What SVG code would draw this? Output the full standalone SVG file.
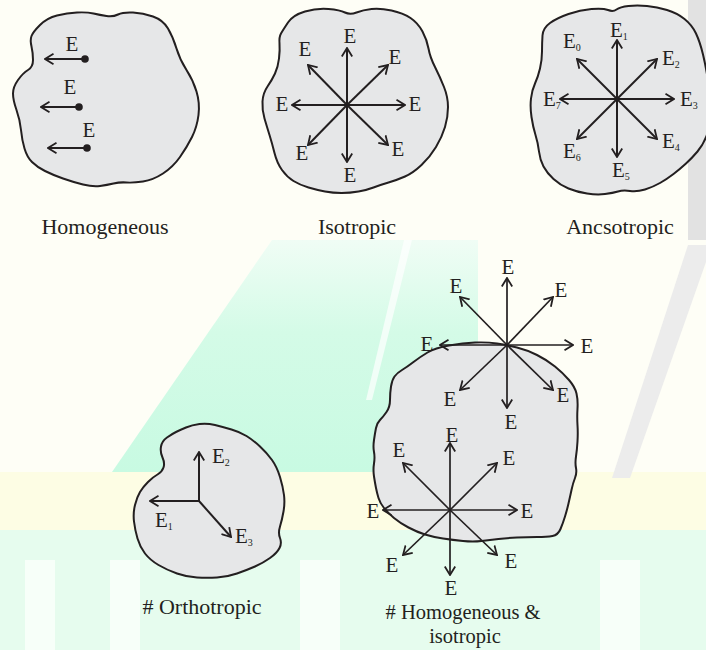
<svg xmlns="http://www.w3.org/2000/svg" width="706" height="650" viewBox="0 0 706 650">
<style>
.blob{fill:#e6e7e8;stroke:#231f20;stroke-width:2;stroke-linejoin:round}
.ar{fill:none;stroke:#231f20;stroke-width:2;marker-end:url(#ah)}
.ar2{fill:none;stroke:#231f20;stroke-width:1.7;marker-end:url(#ah)}
text{font-family:"Liberation Serif","DejaVu Serif",serif;fill:#231f20}
.e{font-size:21px;text-anchor:middle}
.es{font-size:21px}
.sub{font-size:10px}
.cap{font-size:22px;text-anchor:middle}
.cap2{font-size:20.5px;text-anchor:middle}
</style>
<defs>
<marker id="ah" viewBox="0 0 10 12" refX="9" refY="6" markerWidth="10" markerHeight="12" markerUnits="userSpaceOnUse" orient="auto">
<path d="M0.5,0.8 L9,6 L0.5,11.2" fill="none" stroke="#231f20" stroke-width="1.8"/>
</marker>
<linearGradient id="mint" x1="0" y1="0" x2="0" y2="1">
<stop offset="0" stop-color="#f0fdf5"/>
<stop offset="0.4" stop-color="#d4fbe7"/>
<stop offset="1" stop-color="#c8fae2"/>
</linearGradient>
</defs>
<g id="background">
<rect width="706" height="650" fill="#fefef6"/>
<polygon points="272,240 478,240 478,472 112,472" fill="url(#mint)"/>
<polygon points="404,240 412,240 372,400 366,400" fill="#ffffff" opacity="0.7"/>
<rect x="0" y="472" width="706" height="58" fill="#fdfde4"/>
<rect x="0" y="530" width="706" height="120" fill="#e6fcee"/>
<rect x="25" y="560" width="30" height="90" fill="#f7fff9"/>
<rect x="110" y="560" width="30" height="90" fill="#f7fff9"/>
<rect x="300" y="560" width="40" height="90" fill="#f7fff9"/>
<rect x="600" y="560" width="40" height="90" fill="#f7fff9"/>
<rect x="688" y="0" width="18" height="240" fill="#e2e2e2"/>
<polygon points="688,245 706,245 706,262 630,478 612,478" fill="#ececec"/>
</g>
<g id="homogeneous">
<path class="blob" d="M40,25 Q47,18 57,15.5 Q67,13 77,12.5 Q87,12 93.5,13.5 Q100,15 106.5,16 Q113,17 118,14.5 Q123,12 133,12.5 Q143,13 153,16.5 Q163,20 168,28.5 Q173,37 176.5,48.5 Q180,60 186.5,70 Q193,80 196.5,91.5 Q200,103 198.5,115 Q197,127 192,137 Q187,147 180,157 Q173,167 163,173.5 Q153,180 143,181.5 Q133,183 126.5,182.5 Q120,182 113.5,183.5 Q107,185 100,186 Q93,187 83,184.5 Q73,182 63,178.5 Q53,175 45,171 Q37,167 32,162 Q27,157 24.5,148.5 Q22,140 21,130 Q20,120 16.5,110 Q13,100 13,93.5 Q13,87 18,80 Q23,73 28,70 Q33,67 33,60 Q33,53 31.5,46.5 Q30,40 31.5,36 Q33,32 40,25 Z"/>
<line class="ar" x1="85" y1="59" x2="45" y2="59"/>
<line class="ar" x1="79" y1="107" x2="41" y2="107"/>
<line class="ar" x1="87" y1="148" x2="48" y2="148"/>
<circle cx="85" cy="59" r="3.8" fill="#231f20"/>
<circle cx="79" cy="107" r="3.8" fill="#231f20"/>
<circle cx="87" cy="148" r="3.8" fill="#231f20"/>
<g font-family="Liberation Serif, DejaVu Serif, serif">
<text class="e" x="72" y="51">E</text>
<text class="e" x="70" y="94">E</text>
<text class="e" x="89" y="137">E</text>
<text class="cap" x="105" y="234">Homogeneous</text>
</g>
</g>
<g id="isotropic">
<path class="blob" d="M288,22.5 Q293,15 305,11.5 Q317,8 328.5,9 Q340,10 345,12.5 Q350,15 356.5,12.5 Q363,10 371.5,9 Q380,8 391.5,10.5 Q403,13 410.5,18 Q418,23 422.5,31.5 Q427,40 428.5,48.5 Q430,57 435,67 Q440,77 444,87 Q448,97 448,107 Q448,117 445,127 Q442,137 436,147 Q430,157 421.5,165 Q413,173 405,176.5 Q397,180 388.5,182.5 Q380,185 373.5,187.5 Q367,190 358.5,191.5 Q350,193 341.5,193 Q333,193 325,191.5 Q317,190 308.5,187.5 Q300,185 293.5,181 Q287,177 282,170 Q277,163 274.5,153 Q272,143 269.5,135 Q267,127 264.5,118.5 Q262,110 262.5,101.5 Q263,93 267.5,86.5 Q272,80 275,73.5 Q278,67 279,58.5 Q280,50 279.5,43.5 Q279,37 281,33.5 Q283,30 288,22.5 Z"/>
<line class="ar" x1="347" y1="105" x2="347" y2="48"/>
<line class="ar" x1="347" y1="105" x2="347" y2="162"/>
<line class="ar" x1="347" y1="105" x2="292" y2="105"/>
<line class="ar" x1="347" y1="105" x2="405" y2="105"/>
<line class="ar" x1="347" y1="105" x2="308" y2="65"/>
<line class="ar" x1="347" y1="105" x2="388" y2="65"/>
<line class="ar" x1="347" y1="105" x2="388" y2="145"/>
<line class="ar" x1="347" y1="105" x2="308" y2="145"/>
<g font-family="Liberation Serif, DejaVu Serif, serif">
<text class="e" x="350" y="43">E</text>
<text class="e" x="305" y="56">E</text>
<text class="e" x="395" y="64">E</text>
<text class="e" x="282" y="111">E</text>
<text class="e" x="415" y="111">E</text>
<text class="e" x="302" y="160">E</text>
<text class="e" x="398" y="156">E</text>
<text class="e" x="350" y="182">E</text>
<text class="cap" x="357" y="234">Isotropic</text>
</g>
</g>
<g id="ancsotropic">
<path class="blob" d="M550,23 Q557,18 568.5,14 Q580,10 591.5,9 Q603,8 608,10 Q613,12 616.5,9.5 Q620,7 628.5,6 Q637,5 647,6 Q657,7 667,10 Q677,13 684.5,19 Q692,25 696,33.5 Q700,42 703,54.5 Q706,67 708.5,83.5 Q711,100 710.5,113.5 Q710,127 706.5,136 Q703,145 697.5,151.5 Q692,158 686,163.5 Q680,169 673.5,174 Q667,179 660,183 Q653,187 645,189.5 Q637,192 630,191 Q623,190 618,191.5 Q613,193 605,194 Q597,195 587,193.5 Q577,192 568.5,188.5 Q560,185 553.5,179 Q547,173 543.5,166.5 Q540,160 539,151.5 Q538,143 535.5,135 Q533,127 531.5,117 Q530,107 531,98.5 Q532,90 535,83.5 Q538,77 540,68.5 Q542,60 542,51.5 Q542,43 542.5,35.5 Q543,28 550,23 Z"/>
<line class="ar" x1="617" y1="99" x2="617" y2="40"/>
<line class="ar" x1="617" y1="99" x2="617" y2="157"/>
<line class="ar" x1="617" y1="99" x2="560" y2="99"/>
<line class="ar" x1="617" y1="99" x2="674" y2="99"/>
<line class="ar" x1="617" y1="99" x2="577" y2="59"/>
<line class="ar" x1="617" y1="99" x2="657" y2="59"/>
<line class="ar" x1="617" y1="99" x2="657" y2="139"/>
<line class="ar" x1="617" y1="99" x2="577" y2="139"/>
<g font-family="Liberation Serif, DejaVu Serif, serif">
<text class="es" x="610" y="37">E<tspan class="sub" dy="3">1</tspan></text>
<text class="es" x="563" y="48">E<tspan class="sub" dy="3">0</tspan></text>
<text class="es" x="662" y="65">E<tspan class="sub" dy="3">2</tspan></text>
<text class="es" x="543" y="106">E<tspan class="sub" dy="3">7</tspan></text>
<text class="es" x="680" y="106">E<tspan class="sub" dy="3">3</tspan></text>
<text class="es" x="563" y="158">E<tspan class="sub" dy="3">6</tspan></text>
<text class="es" x="662" y="148">E<tspan class="sub" dy="3">4</tspan></text>
<text class="es" x="612" y="177">E<tspan class="sub" dy="3">5</tspan></text>
<text class="cap" x="620" y="234">Ancsotropic</text>
</g>
</g>
<g id="orthotropic">
<path class="blob" d="M167,437.5 Q172,434 176,432 Q180,430 186,427.5 Q192,425 199.5,424 Q207,423 215,425 Q223,427 231.5,429.5 Q240,432 246.5,436 Q253,440 260,446.5 Q267,453 272,460 Q277,467 280,477 Q283,487 284,495 Q285,503 283.5,511.5 Q282,520 280,526.5 Q278,533 280,538 Q282,543 279.5,548 Q277,553 270,558 Q263,563 255,566.5 Q247,570 237,573.5 Q227,577 217,577.5 Q207,578 197,577.5 Q187,577 177,573.5 Q167,570 158.5,565 Q150,560 145,553.5 Q140,547 137.5,538.5 Q135,530 134,521.5 Q133,513 135,505 Q137,497 140,492 Q143,487 148,482 Q153,477 157.5,474.5 Q162,472 163.5,467.5 Q165,463 162.5,457.5 Q160,452 161,446.5 Q162,441 167,437.5 Z"/>
<line class="ar" x1="199" y1="501" x2="199" y2="452"/>
<line class="ar" x1="199" y1="501" x2="150" y2="501"/>
<line class="ar" x1="199" y1="501" x2="231" y2="537"/>
<g font-family="Liberation Serif, DejaVu Serif, serif">
<text class="es" x="212" y="463">E<tspan class="sub" dy="3">2</tspan></text>
<text class="es" x="155" y="527">E<tspan class="sub" dy="3">1</tspan></text>
<text class="es" x="235" y="543">E<tspan class="sub" dy="3">3</tspan></text>
<text class="cap" x="202" y="614"># Orthotropic</text>
</g>
</g>
<g id="homogeneous-isotropic">
<path class="blob" d="M449,345.5 Q463,343 475,342.5 Q487,342 497,343.5 Q507,345 517,347.5 Q527,350 537,355 Q547,360 555,366.5 Q563,373 569,380 Q575,387 576.5,393.5 Q578,400 577.5,408.5 Q577,417 577.5,425 Q578,433 577.5,441.5 Q577,450 576,456.5 Q575,463 576,468 Q577,473 575,478 Q573,483 571.5,490 Q570,497 568.5,503.5 Q567,510 565,516.5 Q563,523 560.5,529 Q558,535 552.5,536 Q547,537 537,537 Q527,537 517,537.5 Q507,538 498.5,539 Q490,540 481.5,541 Q473,542 463,541 Q453,540 443,538.5 Q433,537 425,534.5 Q417,532 408.5,527.5 Q400,523 394,518 Q388,513 384,508 Q380,503 378.5,498 Q377,493 376,488 Q375,483 374,476.5 Q373,470 374,463.5 Q375,457 374,452 Q373,447 374,440 Q375,433 376,428 Q377,423 380,420 Q383,417 386.5,412 Q390,407 390,400 Q390,393 391,386.5 Q392,380 394.5,376.5 Q397,373 402,370 Q407,367 413.5,362 Q420,357 427.5,352.5 Q435,348 449,345.5 Z"/>
<line class="ar2" x1="507" y1="345" x2="507" y2="278"/>
<line class="ar2" x1="507" y1="345" x2="507" y2="408"/>
<line class="ar2" x1="507" y1="345" x2="440" y2="345"/>
<line class="ar2" x1="507" y1="345" x2="573" y2="345"/>
<line class="ar2" x1="507" y1="345" x2="460" y2="297"/>
<line class="ar2" x1="507" y1="345" x2="553" y2="297"/>
<line class="ar2" x1="507" y1="345" x2="553" y2="390"/>
<line class="ar2" x1="507" y1="345" x2="460" y2="390"/>
<line class="ar2" x1="450" y1="510" x2="450" y2="443"/>
<line class="ar2" x1="450" y1="510" x2="450" y2="575"/>
<line class="ar2" x1="450" y1="510" x2="383" y2="510"/>
<line class="ar2" x1="450" y1="510" x2="517" y2="510"/>
<line class="ar2" x1="450" y1="510" x2="403" y2="463"/>
<line class="ar2" x1="450" y1="510" x2="497" y2="463"/>
<line class="ar2" x1="450" y1="510" x2="497" y2="555"/>
<line class="ar2" x1="450" y1="510" x2="403" y2="555"/>
<g font-family="Liberation Serif, DejaVu Serif, serif">
<text class="e" x="508" y="274">E</text>
<text class="e" x="456" y="293">E</text>
<text class="e" x="561" y="297">E</text>
<text class="e" x="427" y="351">E</text>
<text class="e" x="587" y="353">E</text>
<text class="e" x="450" y="406">E</text>
<text class="e" x="563" y="402">E</text>
<text class="e" x="511" y="429">E</text>
<text class="e" x="452" y="442">E</text>
<text class="e" x="399" y="457">E</text>
<text class="e" x="509" y="465">E</text>
<text class="e" x="373" y="518">E</text>
<text class="e" x="527" y="518">E</text>
<text class="e" x="392" y="572">E</text>
<text class="e" x="511" y="568">E</text>
<text class="e" x="451" y="595">E</text>
<text class="cap2" x="463" y="619"># Homogeneous &amp;</text>
<text class="cap2" x="465" y="643">isotropic</text>
</g>
</g>
</svg>
